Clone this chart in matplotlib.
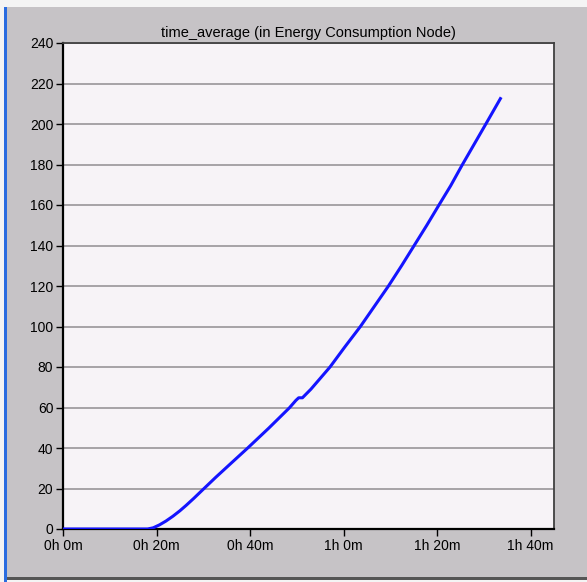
import matplotlib
matplotlib.use("Agg")
import matplotlib.pyplot as plt
from matplotlib.patches import Rectangle

# data (time in minutes, value)
time_min = [0, 10, 18.1, 19.3, 20.6, 22, 23.5, 25, 26.3, 28, 29.8, 32.7, 36, 39.5, 44,
            48.4, 49.8, 50.4, 51.2, 53, 57.1, 60.3, 63.6, 66.6, 69.6, 72.4, 75.1,
            77.8, 80.4, 82.9, 85.3, 88, 90.5, 93.7]
values = [0, 0, 0, 0.6, 2, 3.9, 6.3, 9, 11.6, 15.2, 19.2, 25.6, 32.6, 40, 49.8,
          59.8, 63.5, 64.8, 64.8, 69, 80, 90, 100, 110, 120, 130, 140,
          150, 160, 169.5, 179.5, 190.3, 200.3, 213.2]
x_ticks = [0, 20, 40, 60, 80, 100]
x_labels = ["0h 0m", "0h 20m", "0h 40m", "1h 0m", "1h 20m", "1h 40m"]
y_ticks = list(range(0, 241, 20))
title = "time_average (in Energy Consumption Node)"

W, H = 587, 582
fig = plt.figure(figsize=(W / 100, H / 100), dpi=100)
fig.patch.set_facecolor("#c6c3c6")
plt.rcParams["font.family"] = ["Liberation Sans", "DejaVu Sans"]

# window decorations
fig.patches.append(Rectangle((0, 1 - 7 / H), 1, 7 / H, transform=fig.transFigure,
                             facecolor="#f4f4f4", edgecolor="none", zorder=-9))
fig.patches.append(Rectangle((0, 0), 4 / W, 1, transform=fig.transFigure,
                             facecolor="#f4f4f4", edgecolor="none", zorder=-9))
fig.patches.append(Rectangle((4 / W, 0), 3 / W, 1 - 7 / H, transform=fig.transFigure,
                             facecolor="#2a6ce0", edgecolor="none", zorder=-8))
fig.patches.append(Rectangle((7 / W, 1 - 580 / H), 1 - 7 / W, 3 / H, transform=fig.transFigure,
                             facecolor="#555555", edgecolor="none", zorder=-8))
fig.patches.append(Rectangle((7 / W, 0), 1 - 7 / W, 2 / H, transform=fig.transFigure,
                             facecolor="#f4f4f4", edgecolor="none", zorder=-8))

left, right, top, bottom = 63, 554, 43, 529
ax = fig.add_axes([left / W, 1 - bottom / H, (right - left) / W, (bottom - top) / H])
ax.set_facecolor("#f7f3f7")

ax.plot(time_min, values, color="#1414ff", lw=2.2, solid_capstyle="butt",
        solid_joinstyle="round", zorder=3)

ax.set_xlim(0, 105)
ax.set_ylim(0, 240)
ax.set_xticks(x_ticks)
ax.set_xticklabels(x_labels)
ax.set_yticks(y_ticks)
ax.yaxis.grid(True, color="#a09ca0", lw=1.3)
ax.xaxis.grid(False)
ax.set_axisbelow(True)

for s in ["left", "bottom"]:
    ax.spines[s].set_color("#000000")
    ax.spines[s].set_linewidth(1.6)
for s in ["top", "right"]:
    ax.spines[s].set_color("#404040")
    ax.spines[s].set_linewidth(1.3)

ax.tick_params(axis="both", direction="out", length=5, width=1, color="#000000",
               labelsize=10, labelcolor="#000000", pad=2)
ax.set_title(title, fontsize=10.5, color="#000000", pad=4)

fig.savefig("out.png", dpi=100, facecolor=fig.get_facecolor())
